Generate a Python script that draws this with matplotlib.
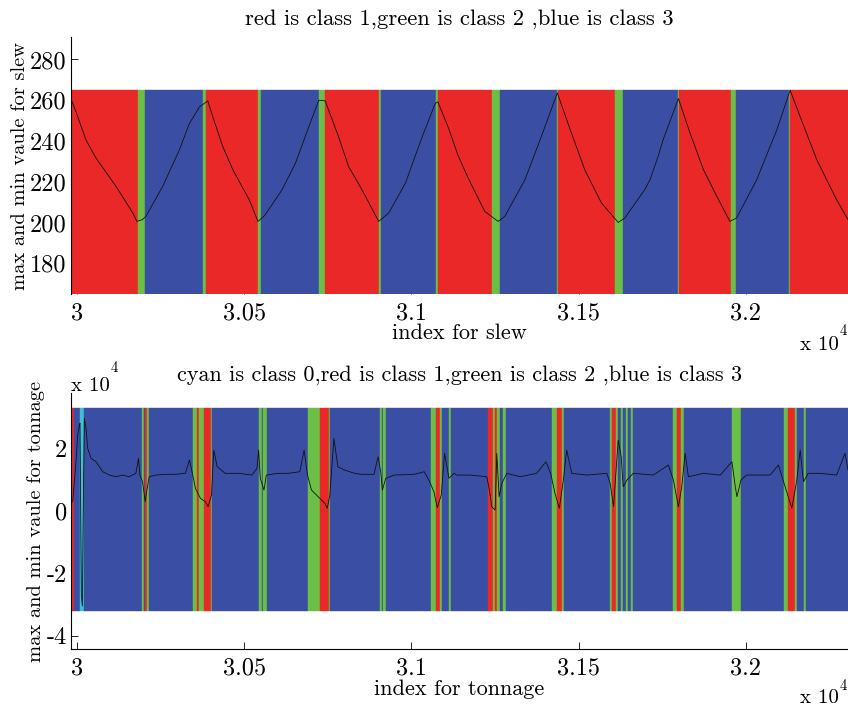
import numpy as np
import matplotlib
matplotlib.use("Agg")
import matplotlib.pyplot as plt

plt.rcParams['font.family'] = ['cmr10', 'DejaVu Serif']
plt.rcParams['axes.unicode_minus'] = False

# class colours: 0 cyan, 1 red, 2 green, 3 blue
class_colors = {0: '#3EC0D4', 1: '#EB2828', 2: '#6CBF45', 3: '#3A4FA3'}

# ---- slew (top) ----
slew_edges = [29982, 30182, 30203, 30377, 30386, 30541, 30550, 30724, 30742, 30903,
              30909, 31073, 31078, 31241, 31265, 31435, 31438, 31609, 31633, 31797,
              31800, 31955, 31970, 32129, 32133, 32305]
slew_classes = [1, 2, 3, 2, 1, 2, 3, 2, 1, 2,
                3, 2, 1, 2, 3, 2, 1, 2, 3, 2,
                1, 2, 3, 2, 1]
slew_x = [29982, 29997, 30027, 30057, 30117, 30167, 30179, 30196, 30206, 30256,
          30306, 30336, 30366, 30391, 30406, 30436, 30466, 30515, 30541, 30561,
          30613, 30653, 30693, 30723, 30742, 30782, 30812, 30852, 30902, 30932,
          30982, 31032, 31071, 31079, 31111, 31139, 31169, 31219, 31259, 31279,
          31339, 31388, 31436, 31468, 31518, 31568, 31618, 31638, 31697, 31713,
          31737, 31753, 31798, 31833, 31873, 31913, 31952, 31972, 32032, 32092,
          32132, 32162, 32212, 32271, 32305]
slew_y = [260.8, 254.3, 240.5, 231.6, 217.7, 204.7, 200.6, 201.5, 203.1, 217.7,
          235.6, 248.6, 256.7, 259.7, 251.9, 237.2, 225.9, 211.2, 200.6, 203.5,
          216.1, 229.1, 247.0, 260.0, 259.7, 242.1, 227.5, 216.1, 200.6, 204.7,
          219.4, 242.1, 258.4, 259.2, 246.2, 233.0, 222.0, 205.5, 200.6, 203.1,
          221.0, 242.1, 263.6, 248.6, 225.9, 209.6, 200.1, 202.3, 216.1, 221.0,
          232.3, 241.0, 260.8, 243.8, 225.9, 212.8, 200.6, 202.3, 221.0, 245.4,
          264.9, 251.9, 230.7, 211.2, 201.5]

# ---- tonnage (bottom) ----
ton_edges = [29982, 29992, 30009, 30021, 30193, 30199, 30203, 30208, 30214, 30347,
             30359, 30365, 30379, 30400, 30404, 30544, 30552, 30556, 30568, 30691,
             30727, 30752, 30756, 30906, 30913, 30916, 30923, 31058, 31073, 31085,
             31092, 31112, 31118, 31230, 31243, 31250, 31255, 31265, 31273, 31283,
             31419, 31434, 31449, 31457, 31593, 31598, 31612, 31616, 31627, 31633,
             31641, 31648, 31655, 31662, 31783, 31794, 31805, 31815, 31959, 31986,
             32115, 32126, 32148, 32153, 32172, 32180, 32305]
ton_classes = [1, 3, 0, 3, 2, 3, 1, 2, 3, 2,
               1, 2, 1, 2, 3, 2, 3, 2, 3, 2,
               1, 2, 3, 2, 3, 2, 3, 2, 1, 2,
               3, 2, 3, 1, 2, 1, 2, 3, 2, 3,
               2, 1, 2, 3, 2, 1, 2, 3, 2, 3,
               2, 3, 2, 3, 2, 1, 2, 3, 2, 3,
               2, 1, 2, 3, 2, 3]
ton_x = [29987, 29997, 30002, 30007, 30009, 30013, 30016, 30019, 30022, 30027,
         30032, 30042, 30057, 30077, 30097, 30117, 30137, 30156, 30176, 30184,
         30188, 30196, 30204, 30208, 30216, 30236, 30266, 30294, 30324, 30336,
         30344, 30354, 30369, 30384, 30392, 30402, 30409, 30419, 30443, 30483,
         30523, 30538, 30543, 30548, 30559, 30566, 30601, 30631, 30666, 30679,
         30689, 30701, 30721, 30741, 30748, 30756, 30768, 30780, 30800, 30830,
         30848, 30888, 30900, 30908, 30913, 30923, 30948, 31008, 31038, 31052,
         31067, 31077, 31089, 31099, 31112, 31127, 31135, 31175, 31225, 31233,
         31240, 31250, 31255, 31262, 31270, 31285, 31325, 31374, 31402, 31416,
         31429, 31442, 31454, 31464, 31479, 31524, 31584, 31594, 31604, 31614,
         31618, 31627, 31633, 31644, 31663, 31723, 31768, 31783, 31798, 31808,
         31818, 31828, 31873, 31923, 31958, 31968, 31973, 31985, 32002, 32072,
         32097, 32117, 32137, 32152, 32162, 32172, 32186, 32222, 32271, 32296,
         32305]
ton_y = [2880, 15680, 24220, 27420, 28000, -27000, -30500, 3000, 29570, 26370,
         19970, 16770, 15680, 12480, 11420, 10880, 11420, 10880, 11970, 16770,
         11420, 9280, 2880, 6080, 10880, 11420, 11650, 11650, 11970, 16220,
         12480, 7170, 3970, 2880, 1280, 5020, 19420, 14080, 11970, 11970,
         11420, 13570, 19420, 10370, 6620, 11420, 11970, 11970, 12480, 19420,
         11420, 6620, 4480, 2370, 770, 5020, 23170, 14080, 13020, 11970,
         11650, 11650, 17280, 12480, 6620, 10370, 11420, 11650, 12480, 9820,
         6080, 1000, 5020, 18370, 10370, 11970, 11420, 11420, 10880, 6620,
         1280, 220, 18370, 4480, 8770, 11970, 10880, 11970, 15680, 11970,
         5560, 770, 9820, 19420, 11970, 11420, 11970, 8770, 1280, 16220,
         22620, 17280, 7680, 9820, 11970, 11420, 14620, 9820, 1280, 7680,
         18370, 10880, 11970, 11420, 15680, 7680, 4480, 9820, 11420, 11420,
         14620, 7680, 770, 9820, 19420, 9280, 11970, 11970, 11420, 18370,
         13020]

xticks = [30000, 30500, 31000, 31500, 32000]
xticklabels = ['3', '3.05', '3.1', '3.15', '3.2']


def draw_bands(ax, edges, classes, lo, hi):
    edges = np.array(edges)
    cols = [class_colors[c] for c in classes]
    ax.bar(edges[:-1], hi - lo, np.diff(edges), bottom=lo, align='edge',
           color=cols, edgecolor=cols, linewidth=0.3, zorder=1)


def style_axes(ax):
    ax.set_axisbelow(True)
    ax.spines['top'].set_visible(False)
    ax.spines['right'].set_visible(False)
    ax.tick_params(direction='in', length=5, width=0.6, labelsize=17.5,
                   top=False, right=False)
    ax.tick_params(axis='x', pad=6)
    ax.tick_params(axis='y', pad=3)
    ax.set_xticks(xticks)
    ax.set_xticklabels(xticklabels)
    ax.set_xlim(29982, 32305)


fig = plt.figure(figsize=(8.48, 7.09), dpi=100)

ax1 = fig.add_axes([0.0837, 0.5853, 0.9163, 0.3625])
draw_bands(ax1, slew_edges, slew_classes, 165, 265)
ax1.plot(slew_x, slew_y, color='#111111', linewidth=0.6, zorder=3)
style_axes(ax1)
ax1.spines['bottom'].set_visible(False)
ax1.set_ylim(165, 291)
ax1.set_yticks([180, 200, 220, 240, 260, 280])
ax1.set_title('red is class 1,green is class 2 ,blue is class 3', fontsize=16.3, pad=9)
ax1.set_xlabel('index for slew', fontsize=16)
ax1.xaxis.set_label_coords(0.5, -0.116)
ax1.set_ylabel('max and min vaule for slew', fontsize=14.7, labelpad=1)
fig.text(0.943, 0.507, 'x 10', fontsize=15)
fig.text(0.99, 0.5275, '4', fontsize=10.5)

ax2 = fig.add_axes([0.0837, 0.0846, 0.9163, 0.3611])
draw_bands(ax2, ton_edges, ton_classes, -32000, 33000)
ax2.plot(ton_x, ton_y, color='#111111', linewidth=0.6, zorder=3)
style_axes(ax2)
ax2.set_ylim(-44300, 37700)
ax2.set_yticks([-40000, -20000, 0, 20000])
ax2.set_yticklabels(['-4', '-2', '0', '2'])
ax2.set_title('cyan is class 0,red is class 1,green is class 2 ,blue is class 3',
              fontsize=16, pad=9)
ax2.set_xlabel('index for tonnage', fontsize=16)
ax2.xaxis.set_label_coords(0.5, -0.12)
ax2.set_ylabel('max and min vaule for tonnage', fontsize=14.7, labelpad=1)
fig.text(0.0837, 0.449, 'x 10', fontsize=15)
fig.text(0.131, 0.476, '4', fontsize=10.5)
fig.text(0.943, 0.003, 'x 10', fontsize=15, va='bottom')
fig.text(0.99, 0.022, '4', fontsize=10.5, va='bottom')

fig.savefig('out.png', dpi=100)
